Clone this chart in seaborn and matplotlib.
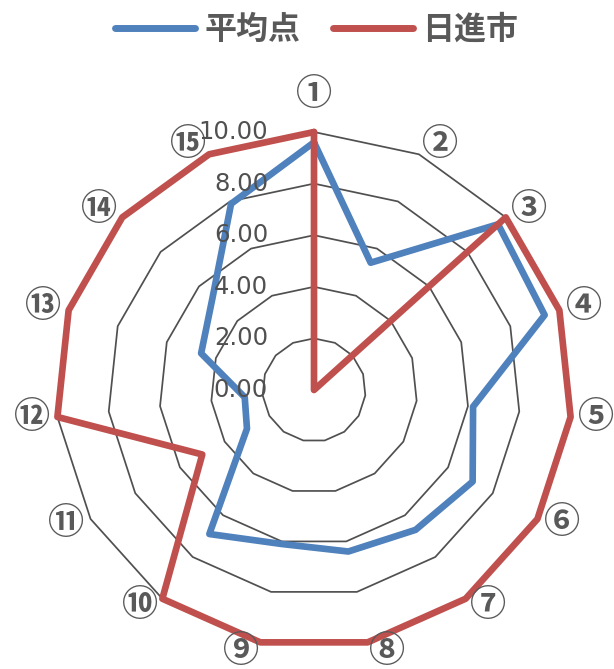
import numpy as np
import pandas as pd
import matplotlib
matplotlib.use("Agg")
import matplotlib.pyplot as plt
from matplotlib.lines import Line2D
import seaborn as sns

# ---- data -------------------------------------------------------------
categories = ["①", "②", "③", "④", "⑤", "⑥", "⑦", "⑧",
              "⑨", "⑩", "⑪", "⑫", "⑬", "⑭", "⑮"]
avg_scores = [9.6, 5.4, 9.6, 9.4, 6.2, 7.1, 6.7, 6.4, 6.1, 6.9, 3.0, 2.7, 4.6, 5.3, 7.9]
nisshin_scores = [10, 0, 10, 10, 10, 10, 10, 10, 10, 10, 5, 10, 10, 10, 10]
series_names = ["平均点", "日進市"]
tick_values = [0, 2, 4, 6, 8, 10]
tick_labels = ["0.00", "2.00", "4.00", "6.00", "8.00", "10.00"]

# ---- style ------------------------------------------------------------
sns.set_theme(style="white")
plt.rcParams["font.family"] = ["Noto Sans CJK JP", "DejaVu Sans"]

BLUE = "#4F81BD"
RED = "#C0504D"
GRID = "#505050"
TEXT = "#595959"

n = len(categories)
theta = np.arange(n) * 2 * np.pi / n
closed_theta = np.append(theta, theta[0])

fig = plt.figure(figsize=(6.14, 6.69), dpi=100)
W, H = 614, 669
cx, cy, R = 314, 390, 258
ax = fig.add_axes([(cx - R) / W, (H - cy - R) / H, 2 * R / W, 2 * R / H],
                  projection="polar")
ax.set_theta_zero_location("N")
ax.set_theta_direction(-1)
ax.set_ylim(0, 10)
ax.set_xticks([])
ax.set_yticks([])
ax.grid(False)
ax.spines["polar"].set_visible(False)
ax.patch.set_alpha(0)

# polygonal value gridlines
for v in tick_values[1:]:
    ax.plot(closed_theta, [v] * (n + 1), color=GRID, lw=1.25, zorder=1,
            clip_on=False)

# series lines (closed loops)
frames = []
for name, vals in zip(series_names, [avg_scores, nisshin_scores]):
    frames.append(pd.DataFrame({
        "theta": closed_theta,
        "score": list(vals) + [vals[0]],
        "series": name,
    }))
df = pd.concat(frames, ignore_index=True)
sns.lineplot(data=df, x="theta", y="score", hue="series",
             palette=[BLUE, RED], hue_order=series_names,
             sort=False, estimator=None, ax=ax, legend=False,
             lw=4.8, solid_joinstyle="round", clip_on=False, zorder=3)
ax.set_xlabel("")
ax.set_ylabel("")

# value labels, left of the vertical axis
for v, lab in zip(tick_values, tick_labels):
    ax.annotate(lab, xy=(0, v), xytext=(-46, 0), textcoords="offset pixels",
                ha="right", va="center", fontsize=17.5, color="#505050",
                family="DejaVu Sans", zorder=5, annotation_clip=False)

# category labels around the outer ring
for t, lab in zip(theta, categories):
    s, c = np.sin(t), np.cos(t)
    if abs(s) < 1e-6:
        dx, dy = 0, 38 * np.sign(c)
    else:
        dx = np.sign(s) * (17.5 + 8 * abs(s))
        dy = 10 * c + 1
    ax.annotate(lab, xy=(t, 10), xytext=(dx, dy), textcoords="offset pixels",
                ha="center", va="center", fontsize=26, fontweight="bold",
                color=TEXT, annotation_clip=False)

# legend
handles = [Line2D([0], [0], color=col, lw=5, solid_capstyle="round")
           for col in (BLUE, RED)]
leg = fig.legend(handles, series_names, loc="center", ncol=2,
                 bbox_to_anchor=(0.516, 0.955), frameon=False,
                 handlelength=2.5, handletextpad=0.3, columnspacing=1.0,
                 prop={"family": "Noto Sans CJK JP", "weight": "bold", "size": 23})
for txt in leg.get_texts():
    txt.set_color(TEXT)

fig.savefig("out.png", dpi=100)
